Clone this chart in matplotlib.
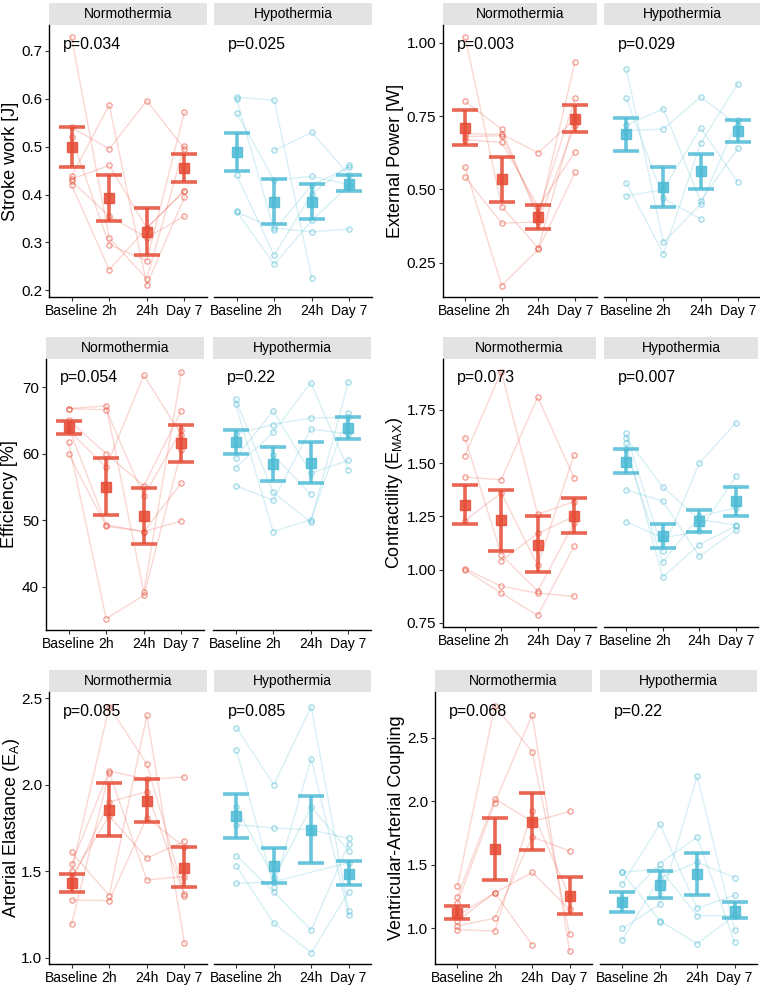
import numpy as np
import matplotlib
matplotlib.use('Agg')
import matplotlib.pyplot as plt

plt.rcParams['font.family'] = ['Liberation Sans', 'DejaVu Sans']
plt.rcParams['mathtext.default'] = 'regular'

timepoints = ['Baseline', '2h', '24h', 'Day 7']
groups = ['Normothermia', 'Hypothermia']
RED = '#E64B35'
BLUE = '#4DBBD5'
nan = np.nan

# ---- Stroke work [J]
sw_mean_n = [0.500, 0.392, 0.322, 0.455]
sw_lo_n = [0.458, 0.345, 0.273, 0.427]
sw_hi_n = [0.542, 0.440, 0.371, 0.484]
sw_subj_n = [[0.728, 0.309, 0.224, 0.502],
             [0.438, 0.587, 0.212, 0.394],
             [0.540, 0.495, 0.596, 0.495],
             [0.428, 0.355, 0.310, 0.355],
             [0.420, 0.243, 0.330, 0.408],
             [0.520, 0.295, 0.262, 0.572],
             [0.432, 0.461, 0.330, 0.408]]
sw_mean_h = [0.488, 0.385, 0.384, 0.423]
sw_lo_h = [0.450, 0.338, 0.348, 0.407]
sw_hi_h = [0.528, 0.433, 0.421, 0.440]
sw_subj_h = [[0.603, 0.597, 0.226, nan],
             [0.600, 0.325, 0.420, 0.457],
             [0.570, 0.430, 0.438, 0.420],
             [0.441, 0.273, 0.402, 0.461],
             [0.365, 0.254, 0.346, 0.420],
             [0.363, 0.330, 0.322, 0.328],
             [nan, 0.492, 0.530, 0.440]]

# ---- External power [W]
ep_mean_n = [0.710, 0.535, 0.407, 0.741]
ep_lo_n = [0.652, 0.457, 0.366, 0.695]
ep_hi_n = [0.771, 0.612, 0.447, 0.787]
ep_subj_n = [[1.020, 0.442, 0.300, 0.750],
             [0.800, 0.705, 0.400, 0.935],
             [0.690, 0.688, 0.625, 0.740],
             [0.680, 0.683, 0.420, 0.810],
             [0.670, 0.660, 0.440, 0.628],
             [0.577, 0.173, 0.296, 0.558],
             [0.543, 0.385, 0.390, 0.720]]
ep_mean_h = [0.688, 0.510, 0.563, 0.700]
ep_lo_h = [0.630, 0.441, 0.503, 0.660]
ep_hi_h = [0.745, 0.578, 0.622, 0.738]
ep_subj_h = [[0.910, 0.320, 0.450, 0.735],
             [0.810, 0.470, 0.400, nan],
             [0.720, 0.775, 0.460, 0.640],
             [0.700, 0.706, 0.815, 0.720],
             [0.523, 0.280, 0.657, 0.860],
             [0.478, 0.500, 0.710, 0.525]]

# ---- Efficiency [%]
ef_mean_n = [64.0, 55.0, 50.6, 61.6]
ef_lo_n = [63.0, 50.8, 46.4, 58.8]
ef_hi_n = [65.0, 59.3, 54.9, 64.3]
ef_subj_n = [[66.8, 67.2, 39.2, 72.3],
             [66.8, 66.6, 53.6, 63.6],
             [65.1, 60.0, 55.2, 66.5],
             [64.0, 49.3, 48.3, 49.9],
             [63.5, 58.0, 71.8, 62.8],
             [61.7, 35.2, 38.7, 60.5],
             [60.0, 49.1, 48.3, 55.6]]
ef_mean_h = [61.7, 58.4, 58.6, 63.9]
ef_lo_h = [59.9, 55.9, 55.6, 62.2]
ef_hi_h = [63.5, 61.0, 61.7, 65.6]
ef_subj_h = [[68.2, 54.2, 49.7, 70.8],
             [67.5, 48.3, 50.1, 66.1],
             [63.0, 64.4, 65.4, 65.5],
             [59.4, 66.4, 57.1, 59.0],
             [57.9, 63.2, 70.7, 57.6],
             [55.2, 53.0, 63.7, 63.0],
             [nan, 59.8, 53.9, nan]]

# ---- Contractility (Emax)
ct_mean_n = [1.305, 1.233, 1.118, 1.254]
ct_lo_n = [1.213, 1.090, 0.990, 1.172]
ct_hi_n = [1.398, 1.373, 1.252, 1.336]
ct_subj_n = [[1.620, 1.070, 0.900, 1.220],
             [1.535, 1.930, 1.260, 1.320],
             [1.435, 1.422, 1.810, 1.430],
             [1.230, 1.360, 1.020, 1.540],
             [1.005, 0.922, 0.890, 0.875],
             [1.000, 0.890, 0.785, 1.110],
             [nan, 1.042, 1.170, 1.250]]
ct_mean_h = [1.505, 1.157, 1.228, 1.322]
ct_lo_h = [1.452, 1.100, 1.176, 1.253]
ct_hi_h = [1.565, 1.215, 1.280, 1.390]
ct_subj_h = [[1.640, 1.090, 1.500, 1.690],
             [1.620, 1.388, 1.235, 1.210],
             [1.595, 0.965, 1.118, 1.205],
             [1.565, 1.035, 1.250, 1.290],
             [1.375, 1.322, 1.063, 1.185],
             [1.225, 1.150, 1.180, 1.440]]

# ---- Arterial elastance (Ea)
ea_mean_n = [1.433, 1.855, 1.906, 1.520]
ea_lo_n = [1.383, 1.703, 1.783, 1.408]
ea_hi_n = [1.487, 2.007, 2.030, 1.638]
ea_subj_n = [[1.610, 1.360, 2.400, 1.085],
             [1.540, 2.080, 2.030, 2.045],
             [1.500, 2.450, 2.120, 1.370],
             [1.470, 1.820, 1.575, 1.675],
             [1.335, 1.330, 1.810, 1.640],
             [1.195, 2.070, 1.450, 1.470],
             [1.440, 1.900, 1.960, 1.360]]
ea_mean_h = [1.817, 1.530, 1.740, 1.487]
ea_lo_h = [1.690, 1.435, 1.548, 1.420]
ea_hi_h = [1.945, 1.635, 1.932, 1.557]
ea_subj_h = [[2.330, 2.000, 2.450, 1.270],
             [2.200, 1.410, 2.150, 1.250],
             [1.870, 1.460, 1.870, 1.620],
             [1.770, 1.750, 1.740, 1.690],
             [1.590, 1.380, 1.160, 1.660],
             [1.530, 1.200, 1.030, 1.380],
             [1.430, 1.440, nan, 1.550]]

# ---- Ventricular-arterial coupling
va_mean_n = [1.123, 1.625, 1.838, 1.258]
va_lo_n = [1.073, 1.378, 1.614, 1.113]
va_hi_n = [1.173, 1.872, 2.063, 1.403]
va_subj_n = [[1.330, 2.750, 2.390, 0.955],
             [1.250, 2.020, 1.840, 1.920],
             [1.200, 1.990, 2.680, 0.820],
             [1.100, 1.280, 1.440, 1.150],
             [1.060, 1.280, 0.870, nan],
             [1.020, 1.080, 1.720, 1.610],
             [0.990, 0.980, 1.920, 1.250]]
va_mean_h = [1.210, 1.342, 1.425, 1.140]
va_lo_h = [1.133, 1.237, 1.260, 1.080]
va_hi_h = [1.287, 1.448, 1.590, 1.207]
va_subj_h = [[1.440, 1.060, 0.880, 1.100],
             [1.350, 1.820, 1.160, 1.260],
             [1.000, 1.190, 2.200, 0.985],
             [0.910, 1.400, 1.520, 1.400],
             [1.200, 1.510, 1.720, 0.890],
             [1.440, 1.470, 1.100, 1.100],
             [nan, 1.050, nan, nan]]

W, H = 760, 988
fig = plt.figure(figsize=(W / 100, H / 100), dpi=100)


def px_axes(x0, x1, y0, y1):
    # pixel box (top-left origin) -> figure axes
    return fig.add_axes([x0 / W, 1 - y1 / H, (x1 - x0) / W, (y1 - y0) / H])


def facet(ax, subj, mean, lo, hi, color, ylim, yticks, yfmt, ptxt, first):
    x = np.arange(1, 5)
    for s in subj:
        s = np.array(s, dtype=float)
        ok = ~np.isnan(s)
        ax.plot(x[ok], s[ok], color=color, alpha=0.22, lw=1.0, zorder=1)
        ax.plot(x[ok], s[ok], 'o', mfc='none', mec=color, mew=0.9, ms=3.8,
                alpha=0.55, zorder=2)
    mean = np.array(mean)
    yerr = [mean - np.array(lo), np.array(hi) - mean]
    ax.errorbar(x, mean, yerr=yerr, fmt='s', color=color, ms=6.5,
                elinewidth=2.6, capsize=9.5, capthick=2.6, alpha=0.85, zorder=3)
    ax.set_xlim(0.4, 4.6)
    ax.set_ylim(*ylim)
    ax.set_xticks(x)
    ax.set_xticklabels(timepoints, fontsize=10)
    for sp in ['top', 'right']:
        ax.spines[sp].set_visible(False)
    ax.spines['bottom'].set_linewidth(1.0)
    ax.tick_params(axis='x', length=3, width=0.8, colors='#333333',
                   labelcolor='black', pad=2)
    if first:
        ax.set_yticks(yticks)
        ax.set_yticklabels([yfmt.format(v) for v in yticks], fontsize=11)
        ax.tick_params(axis='y', length=3, width=0.8, colors='#333333',
                       labelcolor='black', pad=2)
        ax.spines['left'].set_linewidth(1.0)
    else:
        ax.spines['left'].set_visible(False)
        ax.set_yticks([])
    ax.text(0.09, 0.93, ptxt, transform=ax.transAxes, fontsize=11.5,
            ha='left', va='center')


def panel(xs, ytop, ybot, ylabel, lab_x, data_n, data_h, ylim, yticks, yfmt, pvals):
    strip_h = 22
    for i, (x0, x1) in enumerate(xs):
        st = px_axes(x0, x1, ytop, ytop + strip_h)
        st.set_facecolor('#E3E3E3')
        st.set_xticks([])
        st.set_yticks([])
        for sp in st.spines.values():
            sp.set_visible(False)
        st.text(0.5, 0.48, groups[i], ha='center', va='center', fontsize=10)
        ax = px_axes(x0, x1, ytop + strip_h, ybot)
        d = data_n if i == 0 else data_h
        col = RED if i == 0 else BLUE
        facet(ax, d[0], d[1], d[2], d[3], col, ylim, yticks, yfmt, pvals[i], i == 0)
        if i == 0:
            ax.set_ylabel(ylabel, fontsize=13)
            # right edge of the rotated label, in pixels
            ax.yaxis.set_label_coords((lab_x - x0) / (x1 - x0), 0.5)


panel([(49, 207), (214, 372)], 3, 297, 'Stroke work [J]', 19,
      (sw_subj_n, sw_mean_n, sw_lo_n, sw_hi_n), (sw_subj_h, sw_mean_h, sw_lo_h, sw_hi_h),
      (0.186, 0.754), [0.2, 0.3, 0.4, 0.5, 0.6, 0.7], '{:.1f}', ['p=0.034', 'p=0.025'])
panel([(443, 597), (604, 760)], 3, 297, 'External Power [W]', 404,
      (ep_subj_n, ep_mean_n, ep_lo_n, ep_hi_n), (ep_subj_h, ep_mean_h, ep_lo_h, ep_hi_h),
      (0.134, 1.06), [0.25, 0.50, 0.75, 1.00], '{:.2f}', ['p=0.003', 'p=0.029'])
panel([(46, 204), (213, 371)], 337, 630, 'Efficiency [%]', 18,
      (ef_subj_n, ef_mean_n, ef_lo_n, ef_hi_n), (ef_subj_h, ef_mean_h, ef_lo_h, ef_hi_h),
      (33.5, 74.25), [40, 50, 60, 70], '{:.0f}', ['p=0.054', 'p=0.22'])
panel([(443, 596), (604, 758)], 337, 627, 'Contractility (E$_{MAX}$)', 405,
      (ct_subj_n, ct_mean_n, ct_lo_n, ct_hi_n), (ct_subj_h, ct_mean_h, ct_lo_h, ct_hi_h),
      (0.731, 1.989), [0.75, 1.00, 1.25, 1.50, 1.75], '{:.2f}', ['p=0.073', 'p=0.007'])
panel([(49, 207), (214, 371)], 670, 964, 'Arterial Elastance (E$_{A}$)', 22,
      (ea_subj_n, ea_mean_n, ea_lo_n, ea_hi_n), (ea_subj_h, ea_mean_h, ea_lo_h, ea_hi_h),
      (0.965, 2.535), [1.0, 1.5, 2.0, 2.5], '{:.1f}', ['p=0.085', 'p=0.085'])
panel([(435, 592), (600, 757)], 670, 964, 'Ventricular-Arterial Coupling', 405,
      (va_subj_n, va_mean_n, va_lo_n, va_hi_n), (va_subj_h, va_mean_h, va_lo_h, va_hi_h),
      (0.72, 2.86), [1.0, 1.5, 2.0, 2.5], '{:.1f}', ['p=0.068', 'p=0.22'])

fig.savefig('out.png', dpi=100)
